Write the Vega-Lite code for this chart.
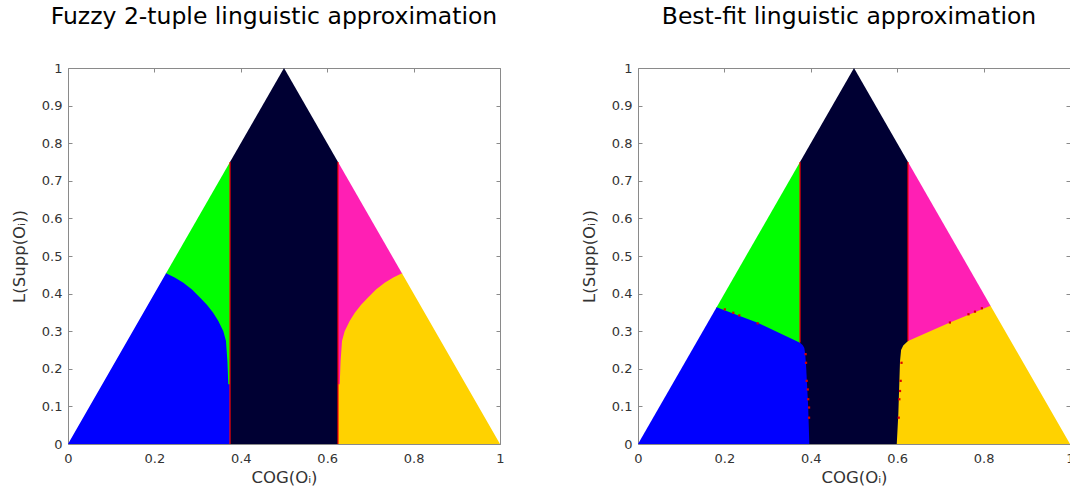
{
  "$schema": "https://vega.github.io/schema/vega-lite/v6.json",
  "padding": {"left": 11, "top": 4, "right": 0, "bottom": 0},
  "background": "white",
  "config": {
    "font": "DejaVu Sans",
    "view": {"stroke": null},
    "axis": {
      "domainColor": "#8a8a8a",
      "tickColor": "#8a8a8a",
      "tickSize": -4,
      "labelFont": "DejaVu Sans",
      "labelFontSize": 13,
      "labelColor": "#333333",
      "labelFlush": false,
      "titleFont": "DejaVu Sans",
      "titleFontSize": 16.5,
      "titleFontWeight": "normal",
      "titleColor": "#333333",
      "grid": false
    },
    "title": {"font": "DejaVu Sans", "fontSize": 23.5, "fontWeight": "normal", "color": "#000000", "frame": "group", "offset": 34}
  },
  "datasets": {
    "regions": [
      {"p": "L", "r": "navy", "x": 0.375, "y": 0.75, "y2": 0},
      {"p": "L", "r": "navy", "x": 0.5, "y": 1.0, "y2": 0},
      {"p": "L", "r": "navy", "x": 0.625, "y": 0.75, "y2": 0},
      {"p": "L", "r": "green", "x": 0.227, "y": 0.454, "y2": 0},
      {"p": "L", "r": "green", "x": 0.375, "y": 0.75, "y2": 0},
      {"p": "L", "r": "magenta", "x": 0.625, "y": 0.75, "y2": 0},
      {"p": "L", "r": "magenta", "x": 0.773, "y": 0.454, "y2": 0},
      {"p": "L", "r": "blue", "x": 0.0, "y": 0.0, "y2": 0},
      {"p": "L", "r": "blue", "x": 0.227, "y": 0.454, "y2": 0},
      {"p": "L", "r": "blue", "x": 0.247, "y": 0.443, "y2": 0},
      {"p": "L", "r": "blue", "x": 0.267, "y": 0.429, "y2": 0},
      {"p": "L", "r": "blue", "x": 0.287, "y": 0.411, "y2": 0},
      {"p": "L", "r": "blue", "x": 0.306, "y": 0.389, "y2": 0},
      {"p": "L", "r": "blue", "x": 0.322, "y": 0.37, "y2": 0},
      {"p": "L", "r": "blue", "x": 0.336, "y": 0.349, "y2": 0},
      {"p": "L", "r": "blue", "x": 0.348, "y": 0.327, "y2": 0},
      {"p": "L", "r": "blue", "x": 0.3596, "y": 0.3, "y2": 0},
      {"p": "L", "r": "blue", "x": 0.3657, "y": 0.274, "y2": 0},
      {"p": "L", "r": "blue", "x": 0.369, "y": 0.22, "y2": 0},
      {"p": "L", "r": "blue", "x": 0.371, "y": 0.159, "y2": 0},
      {"p": "L", "r": "blue", "x": 0.375, "y": 0.159, "y2": 0},
      {"p": "L", "r": "yellow", "x": 0.625, "y": 0.159, "y2": 0},
      {"p": "L", "r": "yellow", "x": 0.629, "y": 0.159, "y2": 0},
      {"p": "L", "r": "yellow", "x": 0.631, "y": 0.22, "y2": 0},
      {"p": "L", "r": "yellow", "x": 0.6343, "y": 0.274, "y2": 0},
      {"p": "L", "r": "yellow", "x": 0.6404, "y": 0.3, "y2": 0},
      {"p": "L", "r": "yellow", "x": 0.652, "y": 0.327, "y2": 0},
      {"p": "L", "r": "yellow", "x": 0.664, "y": 0.349, "y2": 0},
      {"p": "L", "r": "yellow", "x": 0.678, "y": 0.37, "y2": 0},
      {"p": "L", "r": "yellow", "x": 0.694, "y": 0.389, "y2": 0},
      {"p": "L", "r": "yellow", "x": 0.713, "y": 0.411, "y2": 0},
      {"p": "L", "r": "yellow", "x": 0.733, "y": 0.429, "y2": 0},
      {"p": "L", "r": "yellow", "x": 0.753, "y": 0.443, "y2": 0},
      {"p": "L", "r": "yellow", "x": 0.773, "y": 0.454, "y2": 0},
      {"p": "L", "r": "yellow", "x": 1.0, "y": 0.0, "y2": 0},

      {"p": "R", "r": "navy", "x": 0.375, "y": 0.75, "y2": 0},
      {"p": "R", "r": "navy", "x": 0.5, "y": 1.0, "y2": 0},
      {"p": "R", "r": "navy", "x": 0.625, "y": 0.75, "y2": 0},
      {"p": "R", "r": "green", "x": 0.182, "y": 0.364, "y2": 0},
      {"p": "R", "r": "green", "x": 0.375, "y": 0.75, "y2": 0},
      {"p": "R", "r": "magenta", "x": 0.625, "y": 0.75, "y2": 0},
      {"p": "R", "r": "magenta", "x": 0.816, "y": 0.368, "y2": 0},
      {"p": "R", "r": "blue", "x": 0.0, "y": 0.0, "y2": 0},
      {"p": "R", "r": "blue", "x": 0.182, "y": 0.364, "y2": 0},
      {"p": "R", "r": "blue", "x": 0.2785, "y": 0.322, "y2": 0},
      {"p": "R", "r": "blue", "x": 0.375, "y": 0.269, "y2": 0},
      {"p": "R", "r": "blue", "x": 0.381, "y": 0.263, "y2": 0},
      {"p": "R", "r": "blue", "x": 0.385, "y": 0.255, "y2": 0},
      {"p": "R", "r": "blue", "x": 0.387, "y": 0.24, "y2": 0},
      {"p": "R", "r": "blue", "x": 0.389, "y": 0.21, "y2": 0},
      {"p": "R", "r": "blue", "x": 0.394, "y": 0.097, "y2": 0},
      {"p": "R", "r": "blue", "x": 0.3966, "y": 0.0, "y2": 0},
      {"p": "R", "r": "yellow", "x": 0.599, "y": 0.0, "y2": 0},
      {"p": "R", "r": "yellow", "x": 0.6026, "y": 0.079, "y2": 0},
      {"p": "R", "r": "yellow", "x": 0.6065, "y": 0.22, "y2": 0},
      {"p": "R", "r": "yellow", "x": 0.609, "y": 0.25, "y2": 0},
      {"p": "R", "r": "yellow", "x": 0.614, "y": 0.262, "y2": 0},
      {"p": "R", "r": "yellow", "x": 0.625, "y": 0.274, "y2": 0},
      {"p": "R", "r": "yellow", "x": 0.722, "y": 0.323, "y2": 0},
      {"p": "R", "r": "yellow", "x": 0.816, "y": 0.368, "y2": 0},
      {"p": "R", "r": "yellow", "x": 1.0, "y": 0.0, "y2": 0}
    ],
    "rules": [
      {"p": "L", "x": 0.375, "y": 0.0, "y2": 0.75},
      {"p": "L", "x": 0.625, "y": 0.0, "y2": 0.75},
      {"p": "R", "x": 0.375, "y": 0.27, "y2": 0.75},
      {"p": "R", "x": 0.625, "y": 0.274, "y2": 0.75}
    ],
    "specks": [
      {"x": 0.201, "y": 0.358}, {"x": 0.2206, "y": 0.349}, {"x": 0.2345, "y": 0.342}, {"x": 0.277, "y": 0.321},
      {"x": 0.388, "y": 0.239}, {"x": 0.389, "y": 0.216}, {"x": 0.3905, "y": 0.168}, {"x": 0.393, "y": 0.145},
      {"x": 0.394, "y": 0.119}, {"x": 0.396, "y": 0.097}, {"x": 0.396, "y": 0.07},
      {"x": 0.722, "y": 0.323}, {"x": 0.765, "y": 0.345}, {"x": 0.78, "y": 0.352}, {"x": 0.796, "y": 0.361},
      {"x": 0.61, "y": 0.216}, {"x": 0.608, "y": 0.168}, {"x": 0.6065, "y": 0.141}, {"x": 0.605, "y": 0.119}, {"x": 0.6035, "y": 0.07}
    ]
  },
  "spacing": 138,
  "bounds": "flush",
  "hconcat": [
    {
      "title": {"text": "Fuzzy 2-tuple linguistic approximation", "dx": -10},
      "width": 432,
      "height": 376,
      "resolve": {"axis": {"x": "independent", "y": "independent"}},
      "layer": [
        {
          "data": {"name": "regions"},
          "transform": [{"filter": "datum.p === 'L' && datum.r === 'navy'"}],
          "mark": {"type": "area", "interpolate": "linear"},
          "encoding": {
            "x": {"field": "x", "type": "quantitative", "scale": {"domain": [0, 1], "nice": false},
                  "axis": {"orient": "bottom", "values": [0, 0.2, 0.4, 0.6, 0.8, 1], "format": "~g", "labelPadding": 12, "titlePadding": 4, "title": "COG(Oᵢ)"}},
            "y": {"field": "y", "type": "quantitative", "stack": null, "scale": {"domain": [0, 1], "nice": false},
                  "axis": {"orient": "left", "values": [0, 0.1, 0.2, 0.3, 0.4, 0.5, 0.6, 0.7, 0.8, 0.9, 1], "format": "~g", "labelPadding": 10, "titlePadding": 14, "title": "L(Supp(Oᵢ))"}},
            "y2": {"field": "y2"},
            "color": {"field": "r", "type": "nominal", "legend": null,
                      "scale": {"domain": ["navy", "green", "magenta", "blue", "yellow"], "range": ["#000033", "#00ff00", "#ff1fb4", "#0000ff", "#ffd200"]}}
          }
        },
        {
          "data": {"name": "regions"},
          "transform": [{"filter": "datum.p === 'L' && (datum.r === 'green' || datum.r === 'magenta')"}],
          "mark": {"type": "area", "interpolate": "linear"},
          "encoding": {
            "x": {"field": "x", "type": "quantitative", "axis": null},
            "y": {"field": "y", "type": "quantitative", "stack": null, "axis": null},
            "y2": {"field": "y2"},
            "color": {"field": "r", "type": "nominal", "legend": null}
          }
        },
        {
          "data": {"name": "regions"},
          "transform": [{"filter": "datum.p === 'L' && (datum.r === 'blue' || datum.r === 'yellow')"}],
          "mark": {"type": "area", "interpolate": "linear"},
          "encoding": {
            "x": {"field": "x", "type": "quantitative", "axis": null},
            "y": {"field": "y", "type": "quantitative", "stack": null, "axis": null},
            "y2": {"field": "y2"},
            "color": {"field": "r", "type": "nominal", "legend": null}
          }
        },
        {
          "data": {"name": "rules"},
          "transform": [{"filter": "datum.p === 'L'"}],
          "mark": {"type": "rule", "color": "#ff0000", "strokeWidth": 1.2},
          "encoding": {
            "x": {"field": "x", "type": "quantitative", "axis": {"orient": "top", "values": [0, 0.2, 0.4, 0.6, 0.8, 1], "labels": false, "title": null}},
            "y": {"field": "y", "type": "quantitative", "axis": {"orient": "right", "values": [0, 0.1, 0.2, 0.3, 0.4, 0.5, 0.6, 0.7, 0.8, 0.9, 1], "labels": false, "title": null}},
            "y2": {"field": "y2"}
          }
        }
      ]
    },
    {
      "title": {"text": "Best-fit linguistic approximation", "dx": -5},
      "width": 432,
      "height": 376,
      "resolve": {"axis": {"x": "independent", "y": "independent"}},
      "layer": [
        {
          "data": {"name": "regions"},
          "transform": [{"filter": "datum.p === 'R' && datum.r === 'navy'"}],
          "mark": {"type": "area", "interpolate": "linear"},
          "encoding": {
            "x": {"field": "x", "type": "quantitative", "scale": {"domain": [0, 1], "nice": false},
                  "axis": {"orient": "bottom", "values": [0, 0.2, 0.4, 0.6, 0.8, 1], "format": "~g", "labelPadding": 12, "titlePadding": 4, "title": "COG(Oᵢ)"}},
            "y": {"field": "y", "type": "quantitative", "stack": null, "scale": {"domain": [0, 1], "nice": false},
                  "axis": {"orient": "left", "values": [0, 0.1, 0.2, 0.3, 0.4, 0.5, 0.6, 0.7, 0.8, 0.9, 1], "format": "~g", "labelPadding": 10, "titlePadding": 14, "title": "L(Supp(Oᵢ))"}},
            "y2": {"field": "y2"},
            "color": {"field": "r", "type": "nominal", "legend": null,
                      "scale": {"domain": ["navy", "green", "magenta", "blue", "yellow"], "range": ["#000033", "#00ff00", "#ff1fb4", "#0000ff", "#ffd200"]}}
          }
        },
        {
          "data": {"name": "regions"},
          "transform": [{"filter": "datum.p === 'R' && (datum.r === 'green' || datum.r === 'magenta')"}],
          "mark": {"type": "area", "interpolate": "linear"},
          "encoding": {
            "x": {"field": "x", "type": "quantitative", "axis": null},
            "y": {"field": "y", "type": "quantitative", "stack": null, "axis": null},
            "y2": {"field": "y2"},
            "color": {"field": "r", "type": "nominal", "legend": null}
          }
        },
        {
          "data": {"name": "regions"},
          "transform": [{"filter": "datum.p === 'R' && (datum.r === 'blue' || datum.r === 'yellow')"}],
          "mark": {"type": "area", "interpolate": "linear"},
          "encoding": {
            "x": {"field": "x", "type": "quantitative", "axis": null},
            "y": {"field": "y", "type": "quantitative", "stack": null, "axis": null},
            "y2": {"field": "y2"},
            "color": {"field": "r", "type": "nominal", "legend": null}
          }
        },
        {
          "data": {"name": "specks"},
          "mark": {"type": "square", "color": "#dd0000", "size": 5, "opacity": 1},
          "encoding": {
            "x": {"field": "x", "type": "quantitative", "axis": null},
            "y": {"field": "y", "type": "quantitative", "axis": null}
          }
        },
        {
          "data": {"name": "rules"},
          "transform": [{"filter": "datum.p === 'R'"}],
          "mark": {"type": "rule", "color": "#ff0000", "strokeWidth": 1.2},
          "encoding": {
            "x": {"field": "x", "type": "quantitative", "axis": {"orient": "top", "values": [0, 0.2, 0.4, 0.6, 0.8, 1], "labels": false, "title": null}},
            "y": {"field": "y", "type": "quantitative", "axis": {"orient": "right", "values": [0, 0.1, 0.2, 0.3, 0.4, 0.5, 0.6, 0.7, 0.8, 0.9, 1], "labels": false, "title": null}},
            "y2": {"field": "y2"}
          }
        }
      ]
    }
  ]
}
